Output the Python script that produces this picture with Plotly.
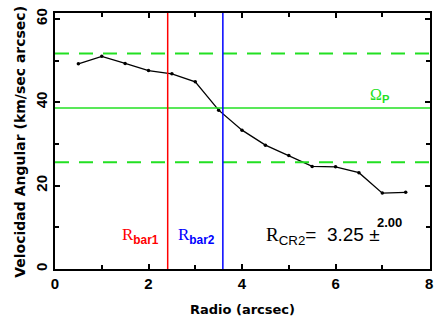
import plotly.graph_objects as go

radio = [0.5, 1.0, 1.5, 2.0, 2.5, 3.0, 3.5, 4.0, 4.5, 5.0, 5.5, 6.0, 6.5, 7.0, 7.5]
vel = [49.2, 51.0, 49.3, 47.6, 46.8, 44.9, 38.1, 33.3, 29.7, 27.2, 24.6, 24.5, 23.1, 18.2, 18.4]
omega_p = 38.6
omega_hi = 51.7
omega_lo = 25.6
r_bar1 = 2.41
r_bar2 = 3.59
x_ticks = [0, 2, 4, 6, 8]
y_ticks = [0, 20, 40, 60]

GREEN = "#22e022"
fig = go.Figure()
fig.add_trace(go.Scatter(x=radio, y=vel, mode="lines+markers",
                         line=dict(color="black", width=1.3),
                         marker=dict(color="black", size=3.5), showlegend=False))

for yv, dash, w in [(omega_p, "solid", 1.5), (omega_hi, "14px,10px", 2), (omega_lo, "14px,10px", 2)]:
    fig.add_hline(y=yv, line=dict(color=GREEN, width=w, dash=dash))
fig.add_vline(x=r_bar1, line=dict(color="red", width=1.5))
fig.add_vline(x=r_bar2, line=dict(color="blue", width=1.5))

serif = "Liberation Serif"
sans = "Liberation Sans"
def lab(main, sub):
    return (f'<span style="font-family:{serif}">{main}</span>'
            f'<sub><span style="font-family:{sans};font-weight:bold">{sub}</span></sub>')

fig.add_annotation(x=1.40, y=8.0, text=lab("R", "bar1"), showarrow=False, xanchor="left",
                   font=dict(color="red", size=17, family=serif))
fig.add_annotation(x=2.58, y=8.0, text=lab("R", "bar2"), showarrow=False, xanchor="left",
                   font=dict(color="blue", size=17, family=serif))
fig.add_annotation(x=4.48, y=8.0, xanchor="left",
                   text=(f'<span style="font-family:{serif}">R</span><sub><span style="font-family:{sans}">CR2</span></sub>'
                         f'<span style="font-family:{sans}">=  3.25 ±</span>'),
                   showarrow=False, font=dict(color="black", size=19, family=sans))
fig.add_annotation(x=6.84, y=11.2, xanchor="left", text="2.00", showarrow=False,
                   font=dict(color="black", size=13, family=sans, weight="bold"))
fig.add_annotation(x=6.94, y=41.6,
                   text=f'<span style="font-family:{serif}">Ω</span><sub><span style="font-family:{sans};font-weight:bold">P</span></sub>',
                   showarrow=False, font=dict(color=GREEN, size=16, family=serif))

axfont = dict(family="Liberation Sans", size=15, color="black", weight="bold")
fig.add_annotation(xref="paper", yref="paper", x=-0.092, y=0.495, textangle=-90,
                   text="Velocidad Angular (km/sec arcsec)", showarrow=False,
                   xanchor="center", yanchor="middle",
                   font=dict(family="DejaVu Sans", size=14, color="black", weight="bold"))
common = dict(showline=True, linecolor="black", linewidth=2, mirror="allticks",
              ticks="inside", ticklen=5, tickwidth=1.5, tickcolor="black",
              showgrid=False, zeroline=False, tickfont=axfont,
              minor=dict(ticks="inside", ticklen=4, tickwidth=1.5, tickcolor="black"))
fig.update_xaxes(range=[0, 8.02], tickvals=x_ticks, minor_dtick=1,
                 title=dict(text="Radio (arcsec)", standoff=14,
                            font=dict(family="DejaVu Sans", size=13, color="black", weight="bold")),
                 **common)
fig.update_yaxes(range=[0, 61.4], tickvals=y_ticks, minor_dtick=10, tickangle=-90,
                 **common)
fig.update_layout(width=441, height=323, margin=dict(l=55, r=8, t=8, b=54),
                  plot_bgcolor="white", paper_bgcolor="white")
fig.write_html("out.html")
